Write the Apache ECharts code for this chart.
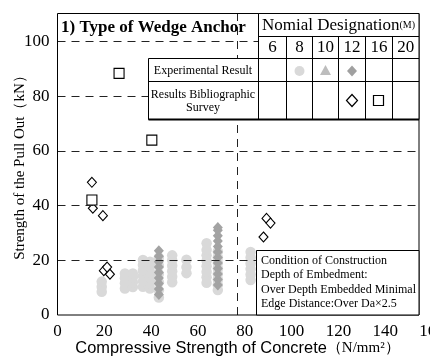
<!DOCTYPE html>
<html><head><meta charset="utf-8">
<script src="https://cdn.jsdelivr.net/npm/echarts@6/dist/echarts.min.js"></script>
<style>html,body{margin:0;padding:0;background:#fff}#c{width:430px;height:358px}</style>
</head><body><div id="c"></div>
<script>
// ---- data ----
const openDiamondX = [14.7, 15.1, 19.4, 19.8, 21.2, 22.4, 89.3, 91.0, 88.0];
const openDiamondY = [48.5, 39.0, 36.3, 16.2, 17.5, 14.9, 35.3, 33.6, 28.5];
const openSquareX = [26.3, 40.3, 14.7];
const openSquareY = [88.3, 63.9, 42.0];
const circleColumnX = [18.9, 28.8, 32.2, 36.5, 39.5, 43.3, 49.0, 55.1, 63.7, 68.5, 82.5];
const circleColumnY = [
  [8.5, 10.3, 12.2],
  [9.7, 11.6, 13.4, 15.2],
  [10.2, 12.0, 13.8, 15.2],
  [10.3, 12.3, 14.3, 16.3, 18.3, 20.1],
  [9.7, 11.7, 13.7, 15.7, 17.7, 19.5],
  [6.4, 9.0, 12.0, 15.0, 18.0, 21.0],
  [12.0, 14.0, 16.0, 18.0, 20.0, 21.8],
  [15.3, 17.5, 20.2],
  [11.8, 13.8, 15.8, 17.8, 19.8, 21.8, 23.8, 26.2],
  [9.1, 11.0, 13.0, 15.0, 17.0, 19.0, 21.0, 23.2],
  [12.8, 14.8, 16.8, 18.8, 21.0, 23.0]
];
const diamondColumnX = [43.3, 68.5];
const diamondColumnY = [
  [7.5, 9.5, 11.5, 13.5, 15.5, 17.5, 19.5, 21.5, 23.5],
  [11.0, 13.0, 15.0, 17.0, 19.0, 21.0, 23.0, 25.0, 27.0, 29.0, 31.0, 32.0]
];
const gridLevels = [20, 40, 60, 80, 100];
const boundaryX = 76.7;
const boxRightX = 154.5;
const nominalSizes = ['6', '8', '10', '12', '16', '20'];
const conditionLines = ['Condition of Construction', 'Depth of Embedment:', 'Over Depth Embedded Minimal', 'Edge Distance:Over Da\u00d72.5'];

// ---- build ----
const pair = (xs, ys) => xs.map((x, i) => [x, ys[i]]);
const columns = (xs, yss) => { const out = []; xs.forEach((x, i) => yss[i].forEach(y => out.push([x, y]))); return out; };

const SERIF = '"Liberation Serif", "Times New Roman", serif';
const SANS = '"Liberation Sans", Arial, sans-serif';

const hLines = gridLevels.map(v => [{ coord: [0, v] }, { coord: [boxRightX, v] }]);
hLines.push([{ coord: [boundaryX, 0] }, { coord: [boundaryX, 110] }]);

const G = [];
const txt = (x, y, text, font, align, lh) => G.push({ type: 'text', x: x, y: y, z: 60, silent: true,
  style: { text: text, font: font, fill: '#000', align: align || 'center', textAlign: align || 'center', verticalAlign: 'middle', textVerticalAlign: 'middle', lineHeight: lh } });
const line = (x1, y1, x2, y2, w) => G.push({ type: 'line', z: 55, silent: true, shape: { x1: x1, y1: y1, x2: x2, y2: y2 }, style: { stroke: '#000', lineWidth: w || 1 } });

// frame
G.push({ type: 'rect', z: 40, silent: true, shape: { x: 57.5, y: 13.5, width: 361.5, height: 301.5 }, style: { fill: 'none', stroke: '#000', lineWidth: 1 } });
// legend table
G.push({ type: 'rect', z: 50, silent: true, shape: { x: 148.5, y: 58.5, width: 110, height: 61 }, style: { fill: '#fff', stroke: '#000', lineWidth: 1 } });
G.push({ type: 'rect', z: 50, silent: true, shape: { x: 258.5, y: 13.5, width: 160.5, height: 106 }, style: { fill: '#fff', stroke: '#000', lineWidth: 1 } });
line(258.5, 36.5, 419, 36.5);
line(258.5, 58.5, 419, 58.5);
line(148.5, 81.5, 419, 81.5);
line(148.5, 119.5, 419, 119.5, 2);
const colEdges = [258.5, 286.5, 312.5, 338.5, 365.5, 392.5, 419];
colEdges.slice(1, -1).forEach(x => line(x, 36.5, x, 119.5));
nominalSizes.forEach((s, i) => txt((colEdges[i] + colEdges[i + 1]) / 2, 47.5, s, '17px ' + SERIF));
G.push({ type: 'text', x: 338.5, y: 25.5, z: 60, silent: true, style: {
  text: '{a|Nomial Designation}{b|(M)}', align: 'center', textAlign: 'center', verticalAlign: 'middle', textVerticalAlign: 'middle',
  rich: { a: { font: '17px ' + SERIF, fill: '#000' }, b: { font: '10px ' + SERIF, fill: '#000' } } } });
txt(203, 70.5, 'Experimental Result', '12px ' + SERIF);
txt(203, 101, 'Results Bibliographic\nSurvey', '12px ' + SERIF, 'center', 13);
// legend markers
G.push({ type: 'circle', z: 60, silent: true, shape: { cx: 299.5, cy: 71, r: 5 }, style: { fill: '#d9d9d9' } });
G.push({ type: 'polygon', z: 60, silent: true, shape: { points: [[325.5, 65], [331, 75], [320, 75]] }, style: { fill: '#bdbdbd' } });
G.push({ type: 'polygon', z: 60, silent: true, shape: { points: [[352, 65.5], [357, 71], [352, 76.5], [347, 71]] }, style: { fill: '#a0a0a0' } });
G.push({ type: 'polygon', z: 60, silent: true, shape: { points: [[352, 94.5], [357.5, 100.5], [352, 106.5], [346.5, 100.5]] }, style: { fill: '#fff', stroke: '#000', lineWidth: 1.2 } });
G.push({ type: 'rect', z: 60, silent: true, shape: { x: 373.5, y: 95.5, width: 10, height: 10 }, style: { fill: '#fff', stroke: '#000', lineWidth: 1.2 } });
// condition box
G.push({ type: 'rect', z: 50, silent: true, shape: { x: 256.5, y: 250.5, width: 162.5, height: 64.5 }, style: { fill: '#fff', stroke: '#000', lineWidth: 1 } });
conditionLines.forEach((t, i) => txt(261, 260.5 + i * 14.6, t, '12px ' + SERIF, 'left'));
// title
txt(61, 27.5, '1) Type of Wedge Anchor', 'bold 17px ' + SERIF, 'left');
// axis names
G.push({ type: 'text', x: 20, y: 164, rotation: Math.PI / 2, z: 60, silent: true, style: {
  text: 'Strength of the Pull Out\uff08kN\uff09', font: '15px ' + SERIF, fill: '#000', align: 'center', textAlign: 'center', verticalAlign: 'middle', textVerticalAlign: 'middle' } });
G.push({ type: 'text', x: 237.5, y: 348, z: 60, silent: true, style: {
  text: '{a|Compressive Strength of Concrete}{b|\uff08N/mm\u00b2\uff09}', align: 'center', textAlign: 'center', verticalAlign: 'middle', textVerticalAlign: 'middle',
  rich: { a: { font: '16.4px ' + SANS, fill: '#000' }, b: { font: '15px ' + SERIF, fill: '#000' } } } });

const chart = echarts.init(document.getElementById('c'), null, { renderer: 'canvas' });
chart.setOption({
  animation: false,
  backgroundColor: '#fff',
  grid: { left: 57.5, right: -2, top: 14, bottom: 43, containLabel: false, outerBoundsMode: 'none' },
  xAxis: { type: 'value', min: 0, max: 160, interval: 20,
    axisLine: { show: false }, axisTick: { show: false }, splitLine: { show: false },
    axisLabel: { fontFamily: SERIF, fontSize: 17, color: '#000', margin: 8, hideOverlap: false } },
  yAxis: { type: 'value', min: 0, max: 110, interval: 20,
    axisLine: { show: false }, axisTick: { show: false }, splitLine: { show: false },
    axisLabel: { fontFamily: SERIF, fontSize: 17, color: '#000', margin: 8, formatter: v => (v > 100 ? '' : String(v)) } },
  graphic: { elements: G },
  series: [
    { name: 'M8 experimental', type: 'scatter', z: 2, symbol: 'circle', symbolSize: 10.5, itemStyle: { color: '#d9d9d9', opacity: 1 }, data: columns(circleColumnX, circleColumnY) },
    { name: 'M12 experimental', type: 'scatter', z: 2, symbol: 'diamond', symbolSize: [10, 11], itemStyle: { color: '#a3a3a3', opacity: 1 }, data: columns(diamondColumnX, diamondColumnY) },
    { name: 'grid', type: 'scatter', z: 3, data: [], markLine: { silent: true, symbol: 'none', label: { show: false },
      lineStyle: { color: '#222', width: 1, type: [8, 6] }, data: hLines } },
    { name: 'M12 survey', type: 'scatter', z: 4, symbol: 'diamond', symbolSize: [9, 10], itemStyle: { color: '#fff', borderColor: '#000', borderWidth: 1.1, opacity: 1 }, data: pair(openDiamondX, openDiamondY) },
    { name: 'M16 survey', type: 'scatter', z: 4, symbol: 'rect', symbolSize: 10, itemStyle: { color: '#fff', borderColor: '#000', borderWidth: 1.1, opacity: 1 }, data: pair(openSquareX, openSquareY) }
  ]
});
</script></body></html>
